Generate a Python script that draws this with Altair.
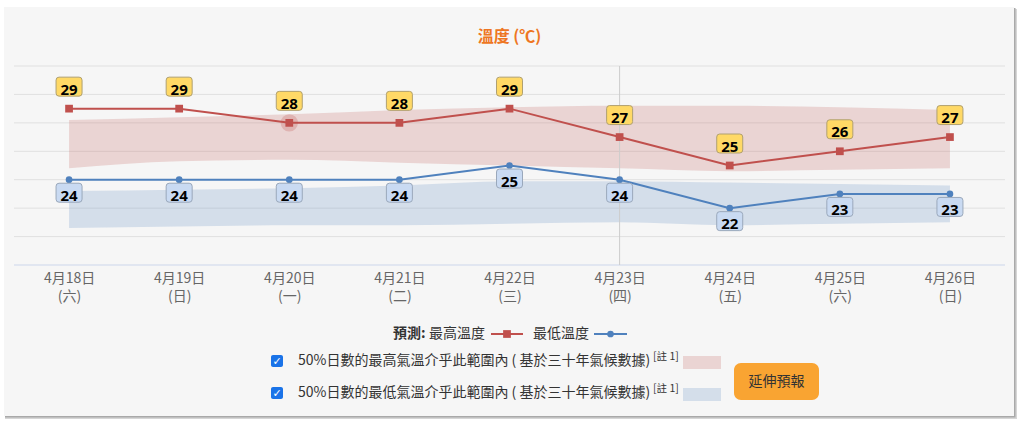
import altair as alt
import pandas as pd

# ---- data ----
dates = ["4月18日", "4月19日", "4月20日", "4月21日", "4月22日", "4月23日", "4月24日", "4月25日", "4月26日"]
weekdays = ["(六)", "(日)", "(一)", "(二)", "(三)", "(四)", "(五)", "(六)", "(日)"]
max_temp = [29, 29, 28, 28, 29, 27, 25, 26, 27]
min_temp = [24, 24, 24, 24, 25, 24, 22, 23, 23]
# 50% climatological range bands
max_band_low = [24.8, 25.3, 25.4, 25.2, 25.0, 24.8, 24.6, 24.7, 24.8]
max_band_high = [28.2, 28.4, 28.6, 28.9, 29.1, 29.2, 29.2, 29.1, 28.9]
min_band_low = [20.6, 20.7, 20.8, 20.8, 20.9, 21.0, 20.8, 20.9, 21.0]
min_band_high = [23.2, 23.3, 23.4, 23.6, 23.9, 23.9, 23.8, 23.7, 23.6]
grid_ticks = [20, 22, 24, 26, 28, 30, 32]
axis_min = 18
axis_max = 32
hover_day = "4月20日"
crosshair_day = "4月23日"

labels = [d + "\n" + w for d, w in zip(dates, weekdays)]
df = pd.DataFrame({
    "label": labels,
    "date": dates,
    "tmax": max_temp,
    "tmin": min_temp,
    "bmax_lo": max_band_low,
    "bmax_hi": max_band_high,
    "bmin_lo": min_band_low,
    "bmin_hi": min_band_high,
})
grid_df = pd.DataFrame({"t": grid_ticks})
base_df = pd.DataFrame({"t": [axis_min]})
one = pd.DataFrame({"k": [0]})

W, H = 991, 199
FONT = "Noto Sans CJK TC"
RED = "#c0504d"
BLUE = "#4f81bd"

xscale = alt.Scale(type="point", padding=0.5, domain=labels)
yscale = alt.Scale(domain=[axis_min, axis_max], nice=False, zero=False)
xaxis = alt.Axis(labelExpr="split(datum.label, '\\n')", labelAngle=0,
                 labelFont=FONT, labelFontSize=14, labelColor="#666666",
                 labelLineHeight=18, labelPadding=6, ticks=False, domain=False,
                 grid=False, zindex=1)
X = alt.X("label:N", scale=xscale, axis=xaxis, title=None)
Y = lambda f: alt.Y(f, type="quantitative", scale=yscale, axis=None)

def box(x1, x2, y1, y2, color, **kw):
    return alt.Chart(one).mark_rect(color=color, **kw).encode(
        x=alt.value(x1), x2=alt.value(x2), y=alt.value(y1), y2=alt.value(y2))

def txt(x, y, s, **kw):
    params = dict(font=FONT, fontSize=14, color="#333333", align="left", baseline="middle", text=s)
    params.update(kw)
    return alt.Chart(one).mark_text(**params).encode(x=alt.value(x), y=alt.value(y))

# card with shadow
shadow1 = box(-9, 1003, -57, 353, "#d6d6d6")
shadow2 = box(-9, 1001.5, -58, 351.5, "#a9a9a9")
card = box(-10, 1000, -59, 350, "#f6f6f6")

grid = alt.Chart(grid_df).mark_rule(color="#e0e0e0", strokeWidth=1).encode(
    y=Y("t"), x=alt.value(0), x2=alt.value(W))
baseline = alt.Chart(base_df).mark_rule(color="#ccd6eb", strokeWidth=1).encode(
    y=Y("t"), x=alt.value(0), x2=alt.value(W))

band_max = alt.Chart(df).mark_area(color=RED, opacity=0.2, interpolate="monotone").encode(
    x=X, y=Y("bmax_lo"), y2="bmax_hi")
band_min = alt.Chart(df).mark_area(color=BLUE, opacity=0.2, interpolate="monotone").encode(
    x=X, y=Y("bmin_lo"), y2="bmin_hi")

crosshair = alt.Chart(df[df["date"] == crosshair_day]).mark_rule(color="#cccccc", strokeWidth=1).encode(
    x=X, y=alt.value(0), y2=alt.value(H))

line_max = alt.Chart(df).mark_line(color=RED, strokeWidth=2).encode(x=X, y=Y("tmax"))
line_min = alt.Chart(df).mark_line(color=BLUE, strokeWidth=2).encode(x=X, y=Y("tmin"))

halo = alt.Chart(df[df["date"] == hover_day]).mark_point(
    shape="circle", filled=True, color=RED, opacity=0.25, size=300).encode(x=X, y=Y("tmax"))

pts_max = alt.Chart(df).mark_point(shape="square", filled=True, color=RED, opacity=1, size=60).encode(
    x=X, y=Y("tmax"))
pts_min = alt.Chart(df).mark_point(shape="circle", filled=True, color=BLUE, opacity=1, size=45).encode(
    x=X, y=Y("tmin"))

RBOX = ("M-0.77,-0.73 L0.77,-0.73 Q1,-0.73 1,-0.5 L1,0.5 Q1,0.73 0.77,0.73 "
        "L-0.77,0.73 Q-1,0.73 -1,0.5 L-1,-0.5 Q-1,-0.73 -0.77,-0.73 Z")
lab_box_max = alt.Chart(df).mark_point(shape=RBOX, size=676, filled=True, fill="#ffd966",
                                       stroke="#b0a070", strokeWidth=1, opacity=1, yOffset=-22).encode(
    x=X, y=Y("tmax"))
lab_box_min = alt.Chart(df).mark_point(shape=RBOX, size=676, filled=True, fill="#c9daf2",
                                       stroke="#9aa8bb", strokeWidth=1, opacity=1, yOffset=13).encode(
    x=X, y=Y("tmin"))
lab_txt_max = alt.Chart(df).mark_text(font="Noto Sans", fontWeight="bold", fontSize=15, color="#000000",
                                      baseline="middle", dy=-19).encode(x=X, y=Y("tmax"), text="tmax:Q")
lab_txt_min = alt.Chart(df).mark_text(font="Noto Sans", fontWeight="bold", fontSize=15, color="#000000",
                                      baseline="middle", dy=16).encode(x=X, y=Y("tmin"), text="tmin:Q")

title = txt(W / 2, -29, "溫度 (℃)", align="center", fontSize=16, fontWeight="bold", color="#ee7623")

# legend line
LY = 268
leg = [
    txt(379, LY, "預測:", fontWeight="bold"),
    txt(415, LY, "最高溫度"),
    alt.Chart(one).mark_rule(color=RED, strokeWidth=2).encode(x=alt.value(477), x2=alt.value(509), y=alt.value(LY)),
    alt.Chart(one).mark_point(shape="square", filled=True, color=RED, opacity=1, size=60).encode(
        x=alt.value(493), y=alt.value(LY)),
    txt(519, LY, "最低溫度"),
    alt.Chart(one).mark_rule(color=BLUE, strokeWidth=2).encode(x=alt.value(580), x2=alt.value(613), y=alt.value(LY)),
    alt.Chart(one).mark_point(shape="circle", filled=True, color=BLUE, opacity=1, size=45).encode(
        x=alt.value(596.5), y=alt.value(LY)),
]

rows = []
for ry, text_s, swatch in [(295, "50%日數的最高氣溫介乎此範圍內 ( 基於三十年氣候數據)", RED),
                           (327, "50%日數的最低氣溫介乎此範圍內 ( 基於三十年氣候數據)", BLUE)]:
    rows += [
        box(257, 269, ry - 6, ry + 6, "#1a73e8", cornerRadius=2),
        txt(263, ry + 0.5, "✓", align="center", color="#ffffff", fontSize=11, fontWeight="bold", font="DejaVu Sans"),
        txt(284, ry, text_s),
        txt(639, ry - 4.5, "[註 1]", fontSize=10.5),
        box(669, 707, ry - 5, ry + 8, swatch, opacity=0.2),
    ]

button = [
    box(720, 805, 297, 334, "#f9a432", cornerRadius=7),
    txt(762.5, 315.5, "延伸預報", align="center", fontSize=14, color="#333333"),
]

chart = alt.layer(
    shadow1, shadow2, card, grid, baseline, band_max, band_min, crosshair,
    line_max, line_min, halo, pts_max, pts_min,
    lab_box_max, lab_box_min, lab_txt_max, lab_txt_min, title,
    *leg, *rows, *button
).properties(
    width=W, height=H,
    padding={"left": 14, "top": 66, "right": 19, "bottom": 158},
    autosize="none", background="#ffffff"
).configure_view(strokeWidth=0)

chart.save("out.html", embed_options={"renderer": "svg", "actions": False})
